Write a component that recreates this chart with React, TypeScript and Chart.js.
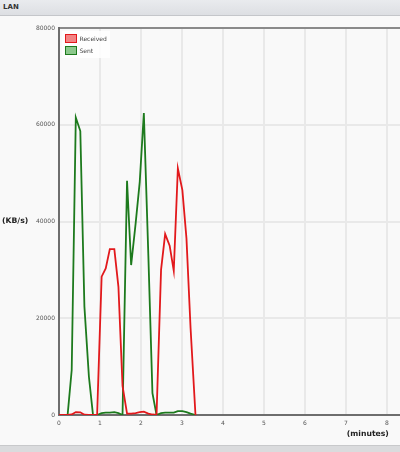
import React, { useEffect, useRef } from 'react';
import { Chart, registerables } from 'chart.js';

Chart.register(...registerables);

// time of each sample (minutes)
const times = [0, 0.10, 0.21, 0.31, 0.41, 0.52, 0.62, 0.73, 0.83, 0.93, 1.04, 1.14, 1.24, 1.35, 1.45, 1.55, 1.66, 1.76, 1.87, 1.97, 2.07, 2.18, 2.28, 2.38, 2.49, 2.59, 2.70, 2.80, 2.90, 3.01, 3.11, 3.21, 3.33];
// KB/s received
const received = [0, 0, 0, 100, 600, 550, 50, 0, 0, 0, 28600, 30300, 34300, 34300, 26500, 6000, 300, 300, 400, 600, 700, 300, 100, 0, 30000, 37400, 35000, 29800, 51000, 46500, 36500, 18000, 0];
// KB/s sent
const sent = [0, 0, 0, 9300, 61500, 58700, 22400, 7900, 0, 0, 400, 500, 500, 600, 400, 0, 48400, 31000, 39600, 48200, 62400, 33000, 4500, 0, 400, 500, 500, 500, 800, 800, 600, 300, 0];

const seriesLabels = ['Received', 'Sent'];
const xMin = 0;
const xMax = 8.32;
const xStep = 1;
const yMin = 0;
const yMax = 80000;
const yStep = 20000;
const yTitle = '(KB/s)';
const xTitle = '(minutes)';
const panelTitle = 'LAN';

const RED = '#e2191c';
const GREEN = '#1d7a1d';
const RED_FILL = 'rgba(240,110,110,0.85)';
const GREEN_FILL = 'rgba(120,190,120,0.85)';
const FONT = '"DejaVu Sans", Verdana, sans-serif';

const extrasPlugin = {
  id: 'extras',
  afterDraw(chart: any) {
    const { ctx, chartArea } = chart;
    const { left, top, right, bottom } = chartArea;
    ctx.save();
    // top border
    ctx.strokeStyle = '#6a6a6a';
    ctx.lineWidth = 1.5;
    ctx.beginPath();
    ctx.moveTo(left, top);
    ctx.lineTo(right, top);
    ctx.stroke();

    // legend
    const lx = left + 3;
    const ly = top + 3;
    ctx.fillStyle = 'rgba(255,255,255,0.85)';
    ctx.fillRect(lx, ly, 48, 27);
    chart.data.datasets.forEach((ds: any, i: number) => {
      const sx = left + 6.5;
      const sy = top + 6.5 + i * 12;
      ctx.fillStyle = ds.legendFill;
      ctx.fillRect(sx, sy, 11, 8);
      ctx.strokeStyle = ds.borderColor;
      ctx.lineWidth = 1;
      ctx.strokeRect(sx, sy, 11, 8);
      ctx.fillStyle = '#444';
      ctx.font = `6px ${FONT}`;
      ctx.textAlign = 'left';
      ctx.textBaseline = 'middle';
      ctx.fillText(ds.label, sx + 14, sy + 4.5);
    });

    // axis titles
    ctx.fillStyle = '#222';
    ctx.font = `bold 7.7px ${FONT}`;
    ctx.textBaseline = 'middle';
    ctx.textAlign = 'left';
    ctx.fillText(yTitle, 2, (top + bottom) / 2);
    ctx.textAlign = 'right';
    const xs = chart.scales.x;
    ctx.fillText(xTitle, xs.getPixelForValue(8) + 2, bottom + 19.5);
    ctx.restore();
  },
};

function LanChart() {
  const ref = useRef<HTMLCanvasElement | null>(null);
  useEffect(() => {
    if (!ref.current) return;
    const chart = new Chart(ref.current, {
      type: 'line',
      data: {
        datasets: [
          {
            label: seriesLabels[0],
            data: times.map((t, i) => ({ x: t, y: received[i] })),
            borderColor: RED,
            backgroundColor: RED,
            legendFill: RED_FILL,
            borderWidth: 1.8,
            pointRadius: 0,
            tension: 0,
            fill: false,
          } as any,
          {
            label: seriesLabels[1],
            data: times.map((t, i) => ({ x: t, y: sent[i] })),
            borderColor: GREEN,
            backgroundColor: GREEN,
            legendFill: GREEN_FILL,
            borderWidth: 1.8,
            pointRadius: 0,
            tension: 0,
            fill: false,
          } as any,
        ],
      },
      options: {
        animation: false,
        responsive: false,
        layout: { padding: { top: 12, left: 0, right: 0, bottom: 0 } },
        plugins: {
          legend: { display: false },
          tooltip: { enabled: false },
        },
        scales: {
          x: {
            type: 'linear',
            min: xMin,
            max: xMax,
            afterFit: (s: any) => { s.height = 30; },
            grid: { color: '#e9e9e9', lineWidth: 2, drawTicks: false },
            border: { color: '#6e6e6e', width: 2 },
            ticks: {
              stepSize: xStep,
              includeBounds: false,
              padding: 5,
              color: '#555',
              font: { family: FONT, size: 6 },
              maxRotation: 0,
              callback: (v: any) => String(v),
            },
          },
          y: {
            type: 'linear',
            min: yMin,
            max: yMax,
            afterFit: (s: any) => { s.width = 59; },
            grid: { color: '#e9e9e9', lineWidth: 2, drawTicks: false },
            border: { color: '#6e6e6e', width: 2 },
            ticks: {
              stepSize: yStep,
              padding: 4,
              color: '#555',
              font: { family: FONT, size: 6 },
              callback: (v: any) => String(v),
            },
          },
        },
      },
      plugins: [extrasPlugin],
    });
    return () => chart.destroy();
  }, []);
  return <canvas ref={ref} width={400} height={429} style={{ display: 'block' }} />;
}

export default function App() {
  return (
    <div
      style={{
        position: 'fixed',
        left: 0,
        top: 0,
        width: 400,
        height: 452,
        overflow: 'hidden',
        background: '#f9f9f9',
        fontFamily: FONT,
      }}
    >
      <div
        style={{
          height: 15,
          background: 'linear-gradient(#e9ebee, #dddfe3)',
          borderBottom: '1px solid #c4c6ca',
          fontWeight: 'bold',
          fontSize: 7,
          lineHeight: '15px',
          paddingLeft: 3,
          color: '#333',
          boxSizing: 'content-box',
        }}
      >
        {panelTitle}
      </div>
      <LanChart />
      <div
        style={{
          position: 'absolute',
          left: 0,
          top: 445,
          width: 400,
          height: 7,
          background: '#dadbdd',
          borderTop: '1px solid #c8c9cb',
        }}
      />
    </div>
  );
}
